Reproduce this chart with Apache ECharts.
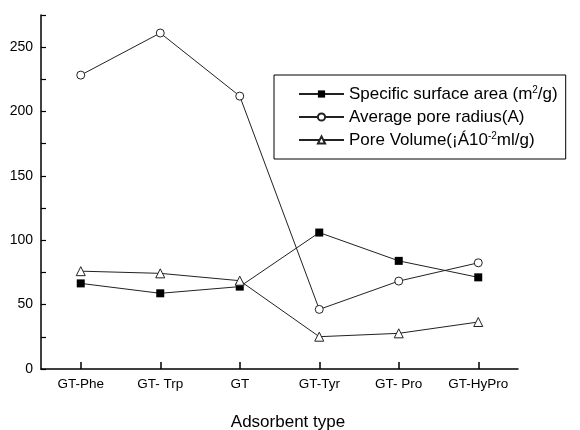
<!DOCTYPE html>
<html>
<head>
<meta charset="utf-8">
<script src="https://cdn.jsdelivr.net/npm/echarts@6/dist/echarts.min.js"></script>
<style>html,body{margin:0;padding:0;background:#fff;}#c{width:580px;height:430px;}</style>
</head>
<body>
<div id="c"></div>
<script>
const categories = ['GT-Phe', 'GT- Trp', 'GT', 'GT-Tyr', 'GT- Pro', 'GT-HyPro'];
const surfaceArea = [66.5, 58.8, 64, 106, 84, 71.2];
const poreRadius = [228.3, 261, 212, 46.3, 68.3, 82.5];
const poreVolume = [76, 74.3, 68.6, 25.1, 27.7, 36.5];
const seriesNames = ['Specific surface area', 'Average pore radius', 'Pore Volume'];
const legendLabels = {
  'Specific surface area': 'Specific surface area (m{sup|2}/g)',
  'Average pore radius': 'Average pore radius(A)',
  'Pore Volume': 'Pore Volume(¡Á10{sup|-2}ml/g)'
};
const xAxisName = 'Adsorbent type';

const FONT = 'Liberation Sans, Arial, Helvetica, sans-serif';
const chart = echarts.init(document.getElementById('c'), null, {renderer: 'canvas'});
const lineStyle = {color: '#222', width: 1};
chart.setOption({
  backgroundColor: '#fff',
  animation: false,
  textStyle: {fontFamily: FONT, color: '#000'},
  grid: {left: 41, right: 62, top: 15, bottom: 61, containLabel: false, outerBoundsMode: 'none'},
  legend: {
    orient: 'vertical',
    left: 274,
    top: 75,
    padding: [10, 8, 10, 24],
    itemGap: 5,
    itemWidth: 45,
    itemHeight: 9,
    borderColor: '#000',
    borderWidth: 1,
    data: seriesNames,
    formatter: name => legendLabels[name],
    textStyle: {
      fontFamily: FONT, fontSize: 17, color: '#000', lineHeight: 18,
      rich: {sup: {fontFamily: FONT, fontSize: 10, color: '#000', verticalAlign: 'top', lineHeight: 10}}
    }
  },
  xAxis: {
    type: 'category',
    data: categories,
    boundaryGap: true,
    name: xAxisName,
    nameLocation: 'middle',
    nameGap: 45,
    nameTextStyle: {fontFamily: FONT, fontSize: 17, color: '#000', verticalAlign: 'top', padding: [0, 0, 0, 17]},
    axisLine: {lineStyle: {color: '#000', width: 1.5}},
    axisTick: {show: true, inside: true, length: 7, alignWithLabel: true, lineStyle: {color: '#000', width: 1.5}},
    axisLabel: {fontFamily: FONT, fontSize: 13.5, color: '#000', margin: 8, interval: 0},
    splitLine: {show: false}
  },
  yAxis: {
    type: 'value',
    min: 0,
    max: 275,
    interval: 25,
    axisLine: {show: true, lineStyle: {color: '#000', width: 1.5}},
    axisTick: {show: true, inside: true, length: 5, lineStyle: {color: '#000', width: 1.2}},
    axisLabel: {fontFamily: FONT, fontSize: 14, color: '#000', margin: 8,
      formatter: v => (v % 50 === 0 ? String(v) : '')},
    splitLine: {show: false}
  },
  series: [
    {
      name: seriesNames[0], type: 'line', data: surfaceArea,
      symbol: 'rect', symbolSize: 8, showAllSymbol: true,
      lineStyle: lineStyle,
      itemStyle: {color: '#000', borderColor: '#000', borderWidth: 0}
    },
    {
      name: seriesNames[1], type: 'line', data: poreRadius,
      symbol: 'circle', symbolSize: 8, showAllSymbol: true,
      lineStyle: lineStyle,
      itemStyle: {color: '#fff', borderColor: '#222', borderWidth: 1}
    },
    {
      name: seriesNames[2], type: 'line', data: poreVolume,
      symbol: 'triangle', symbolSize: 9, showAllSymbol: true,
      lineStyle: lineStyle,
      itemStyle: {color: '#fff', borderColor: '#222', borderWidth: 1}
    }
  ]
});
</script>
</body>
</html>
